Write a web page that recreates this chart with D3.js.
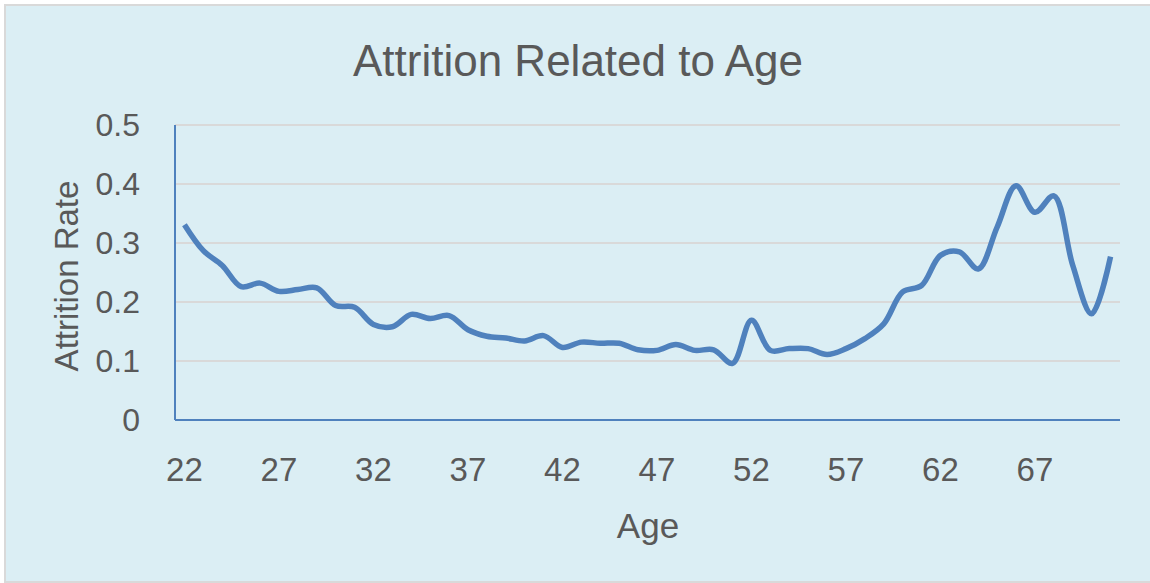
<!DOCTYPE html>
<html>
<head>
<meta charset="utf-8">
<script src="https://cdn.jsdelivr.net/npm/d3@7"></script>
<style>
  body { margin: 0; background: #fff; }
  text { font-family: "Liberation Sans", Arial, sans-serif; fill: #595959; }
</style>
</head>
<body>
<script>
// ages 22..71, one category each
var ages = d3.range(22, 72);
var attritionRate = [
  0.331, 0.287, 0.262, 0.226, 0.232, 0.218, 0.221, 0.224, 0.194, 0.191,
  0.162, 0.158, 0.179, 0.172, 0.177, 0.153, 0.142, 0.139, 0.134, 0.143,
  0.123, 0.132, 0.130, 0.130, 0.119, 0.118, 0.128, 0.118, 0.119, 0.096,
  0.169, 0.118, 0.121, 0.121, 0.111, 0.121, 0.138, 0.163, 0.217, 0.228,
  0.279, 0.285, 0.256, 0.327, 0.397, 0.352, 0.380, 0.262, 0.180, 0.277
];
var yTicks = [0, 0.1, 0.2, 0.3, 0.4, 0.5];
var xTickLabels = [22, 27, 32, 37, 42, 47, 52, 57, 62, 67];

var W = 1150, H = 583;
var margin = {top: 125, right: 30, bottom: 163, left: 175};

var svg = d3.select("body").append("svg")
    .attr("width", W)
    .attr("height", H);

// chart background with thin grey border
svg.append("rect")
    .attr("x", 5).attr("y", 5)
    .attr("width", W + 10).attr("height", 577)
    .attr("fill", "#DBEEF4")
    .attr("stroke", "#D9D9D9")
    .attr("stroke-width", 2);

var x = d3.scaleBand()
    .domain(ages)
    .range([margin.left, W - margin.right]);

var y = d3.scaleLinear()
    .domain([0, 0.5])
    .range([420, margin.top]);

// gridlines
svg.append("g")
  .selectAll("line")
  .data(yTicks.slice(1))
  .enter().append("line")
    .attr("x1", margin.left).attr("x2", W - margin.right)
    .attr("y1", function(d) { return y(d); })
    .attr("y2", function(d) { return y(d); })
    .attr("stroke", "#D9D9D9")
    .attr("stroke-width", 2);

// y axis labels
var yAxis = svg.append("g")
    .attr("transform", "translate(" + (margin.left - 10) + ",0)")
    .call(d3.axisLeft(y).tickValues(yTicks).tickSize(0).tickPadding(25)
      .tickFormat(function(d) { return d === 0 ? "0" : d3.format(".1f")(d); }));
yAxis.select(".domain").remove();
yAxis.selectAll("text").style("font-size", "32px").attr("fill", "#595959");

// x axis labels
var xAxis = svg.append("g")
    .attr("transform", "translate(0,420)")
    .call(d3.axisBottom(x).tickValues(xTickLabels).tickSize(0).tickPadding(38));
xAxis.select(".domain").remove();
xAxis.selectAll("text").style("font-size", "33px").attr("fill", "#595959");

// axis lines
svg.append("line")
    .attr("x1", margin.left).attr("x2", margin.left)
    .attr("y1", margin.top).attr("y2", 420)
    .attr("stroke", "#4F81BD").attr("stroke-width", 2);
svg.append("line")
    .attr("x1", margin.left).attr("x2", W - margin.right)
    .attr("y1", 420).attr("y2", 420)
    .attr("stroke", "#4F81BD").attr("stroke-width", 2);

// the series
var line = d3.line()
    .x(function(d, i) { return x(ages[i]) + x.bandwidth() / 2; })
    .y(function(d) { return y(d); })
    .curve(d3.curveCatmullRom.alpha(0.5));

svg.append("path")
    .datum(attritionRate)
    .attr("d", line)
    .attr("fill", "none")
    .attr("stroke", "#4F81BD")
    .attr("stroke-width", 5.5)
    .attr("stroke-linejoin", "round");

// titles
svg.append("text")
    .attr("x", 578).attr("y", 76)
    .attr("text-anchor", "middle")
    .style("font-size", "44px")
    .text("Attrition Related to Age");

svg.append("text")
    .attr("transform", "translate(78,276) rotate(-90)")
    .attr("text-anchor", "middle")
    .style("font-size", "33px")
    .text("Attrition Rate");

svg.append("text")
    .attr("x", 648).attr("y", 538)
    .attr("text-anchor", "middle")
    .style("font-size", "35px")
    .text("Age");
</script>
</body>
</html>
